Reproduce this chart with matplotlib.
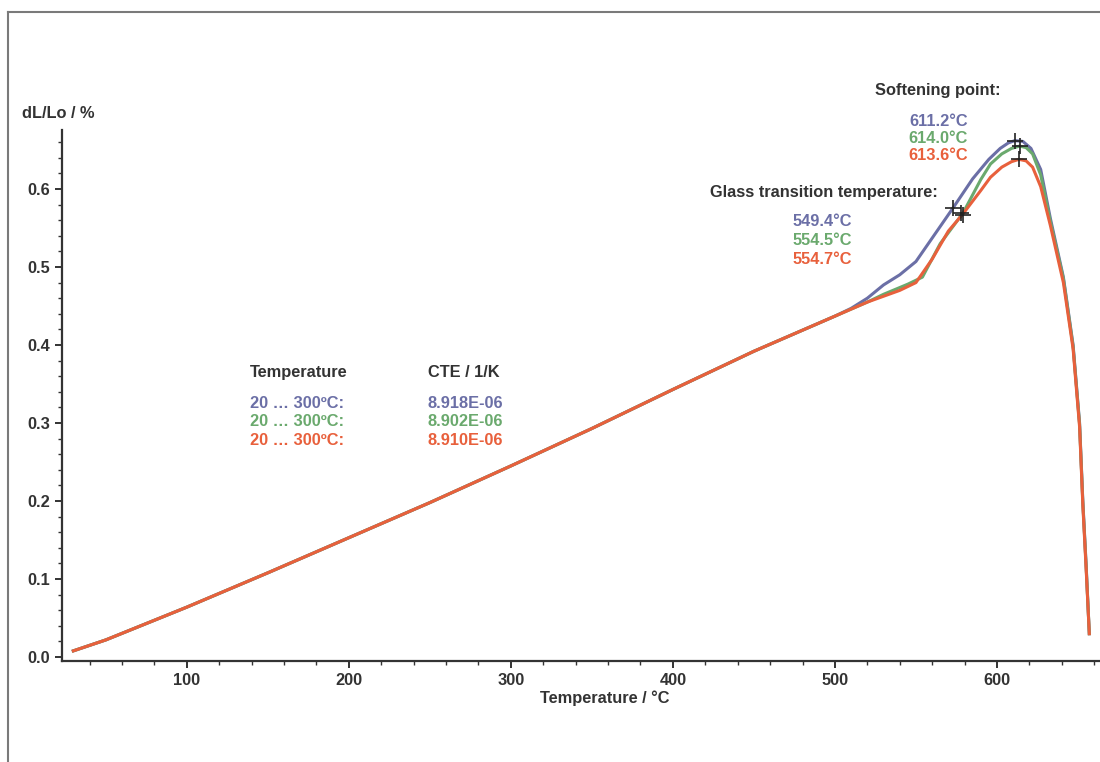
import matplotlib
matplotlib.use("Agg")
import matplotlib.pyplot as plt
from matplotlib.lines import Line2D
from matplotlib.ticker import MultipleLocator, FormatStrFormatter

plt.rcParams["font.family"] = ["Liberation Sans", "DejaVu Sans"]

# shared linear part (all three runs overlap below ~500 C)
base_t = [30, 50, 75, 100, 150, 200, 250, 300, 350, 400, 450, 500]
base_v = [0.008, 0.022, 0.043, 0.064, 0.108, 0.153, 0.198, 0.245, 0.293, 0.343, 0.392, 0.437]

blue_t = base_t + [510, 520, 530, 540, 550, 560, 573, 585, 595, 602, 607, 611, 616, 621, 627, 633, 641, 647, 651, 653, 655, 657]
blue_v = base_v + [0.447, 0.460, 0.477, 0.490, 0.507, 0.537, 0.576, 0.613, 0.638, 0.652, 0.659, 0.662, 0.661, 0.652, 0.625, 0.562, 0.487, 0.400, 0.300, 0.200, 0.120, 0.030]

green_t = base_t + [520, 530, 545, 554, 565, 579, 590, 596, 603, 609, 614, 618, 622, 627, 633, 641, 647, 651, 653, 655, 657]
green_v = base_v + [0.455, 0.465, 0.478, 0.487, 0.530, 0.569, 0.612, 0.632, 0.645, 0.652, 0.655, 0.653, 0.645, 0.618, 0.558, 0.485, 0.398, 0.298, 0.198, 0.118, 0.030]

red_t = base_t + [520, 540, 550, 560, 570, 579, 590, 596, 603, 609, 613.6, 618, 622, 627, 633, 641, 647, 651, 653, 655, 657]
red_v = base_v + [0.455, 0.470, 0.480, 0.510, 0.546, 0.568, 0.598, 0.615, 0.628, 0.635, 0.638, 0.636, 0.628, 0.603, 0.553, 0.480, 0.395, 0.295, 0.195, 0.115, 0.030]

# marker points (where the crosses sit on the curves)
tg_t = [573, 578, 579]
tg_v = [0.576, 0.569, 0.567]
soft_t = [611.2, 614.0, 613.6]
soft_v = [0.662, 0.655, 0.638]

blue = "#6b6fa6"
green = "#6aa96d"
red = "#e8603c"
dark = "#333333"

softening = ["611.2°C", "614.0°C", "613.6°C"]
glass = ["549.4°C", "554.5°C", "554.7°C"]
ranges = ["20 … 300ºC:", "20 … 300ºC:", "20 … 300ºC:"]
cte = ["8.918E-06", "8.902E-06", "8.910E-06"]
colors = [blue, green, red]

fs = 11.8

fig = plt.figure(figsize=(11, 7.62), dpi=100)
ax = fig.add_axes([62 / 1100, 1 - 661 / 762, 1 - 62 / 1100, (661 - 130) / 762])

ax.plot(blue_t, blue_v, color=blue, lw=2.2)
ax.plot(green_t, green_v, color=green, lw=2.2)
ax.plot(red_t, red_v, color=red, lw=2.2)
ax.plot(tg_t, tg_v, "+", color="#222222", ms=12, mew=1.2, ls="none")
ax.plot(soft_t, soft_v, "+", color="#222222", ms=12, mew=1.2, ls="none")

ax.set_xlim(23, 663.6)
ax.set_ylim(-0.005, 0.6756)
ax.xaxis.set_major_locator(MultipleLocator(100))
ax.xaxis.set_minor_locator(MultipleLocator(20))
ax.yaxis.set_major_locator(MultipleLocator(0.1))
ax.yaxis.set_minor_locator(MultipleLocator(0.02))
ax.yaxis.set_major_formatter(FormatStrFormatter("%.1f"))
ax.set_xticks([100, 200, 300, 400, 500, 600])

for s in ["top", "right"]:
    ax.spines[s].set_visible(False)
for s in ["left", "bottom"]:
    ax.spines[s].set_color(dark)
    ax.spines[s].set_linewidth(1.6)
ax.tick_params(which="major", length=5, width=1.4, color=dark, labelsize=fs, labelcolor=dark)
ax.tick_params(which="minor", length=3, width=1.0, color=dark)
for lab in ax.get_xticklabels() + ax.get_yticklabels():
    lab.set_fontweight("bold")

ax.set_xlabel("Temperature / °C", fontsize=fs, fontweight="bold", color=dark)
ax.xaxis.set_label_coords((605 - 62) / 1038, -(698 - 661) / 531, transform=ax.transAxes)
ax.xaxis.label.set_va("center")
fig.text(22 / 1100, 1 - 113 / 762, "dL/Lo / %", fontsize=fs, fontweight="bold", color=dark, va="center")

# annotations (figure pixel coordinates)
def ftext(x, y, s, color=dark, ha="left"):
    fig.text(x / 1100, 1 - y / 762, s, fontsize=fs, fontweight="bold", color=color, ha=ha, va="center")

ftext(875, 90, "Softening point:")
for i, s in enumerate(softening):
    ftext(968, 121 + i * 17.5, s, colors[i], ha="right")
ftext(710, 192, "Glass transition temperature:")
for i, s in enumerate(glass):
    ftext(852, 221 + i * 19.5, s, colors[i], ha="right")
ftext(250, 373, "Temperature")
ftext(428, 373, "CTE / 1/K")
for i in range(3):
    ftext(250, 404 + i * 18, ranges[i], colors[i])
    ftext(428, 404 + i * 18, cte[i], colors[i])

# outer frame (top and left edges only)
fig.add_artist(Line2D([8 / 1100, 1.0], [1 - 12 / 762, 1 - 12 / 762], color="#7a7a7a", lw=1.5, transform=fig.transFigure))
fig.add_artist(Line2D([8 / 1100, 8 / 1100], [1 - 12 / 762, 0], color="#7a7a7a", lw=1.5, transform=fig.transFigure))

fig.savefig("out.png", dpi=100)
